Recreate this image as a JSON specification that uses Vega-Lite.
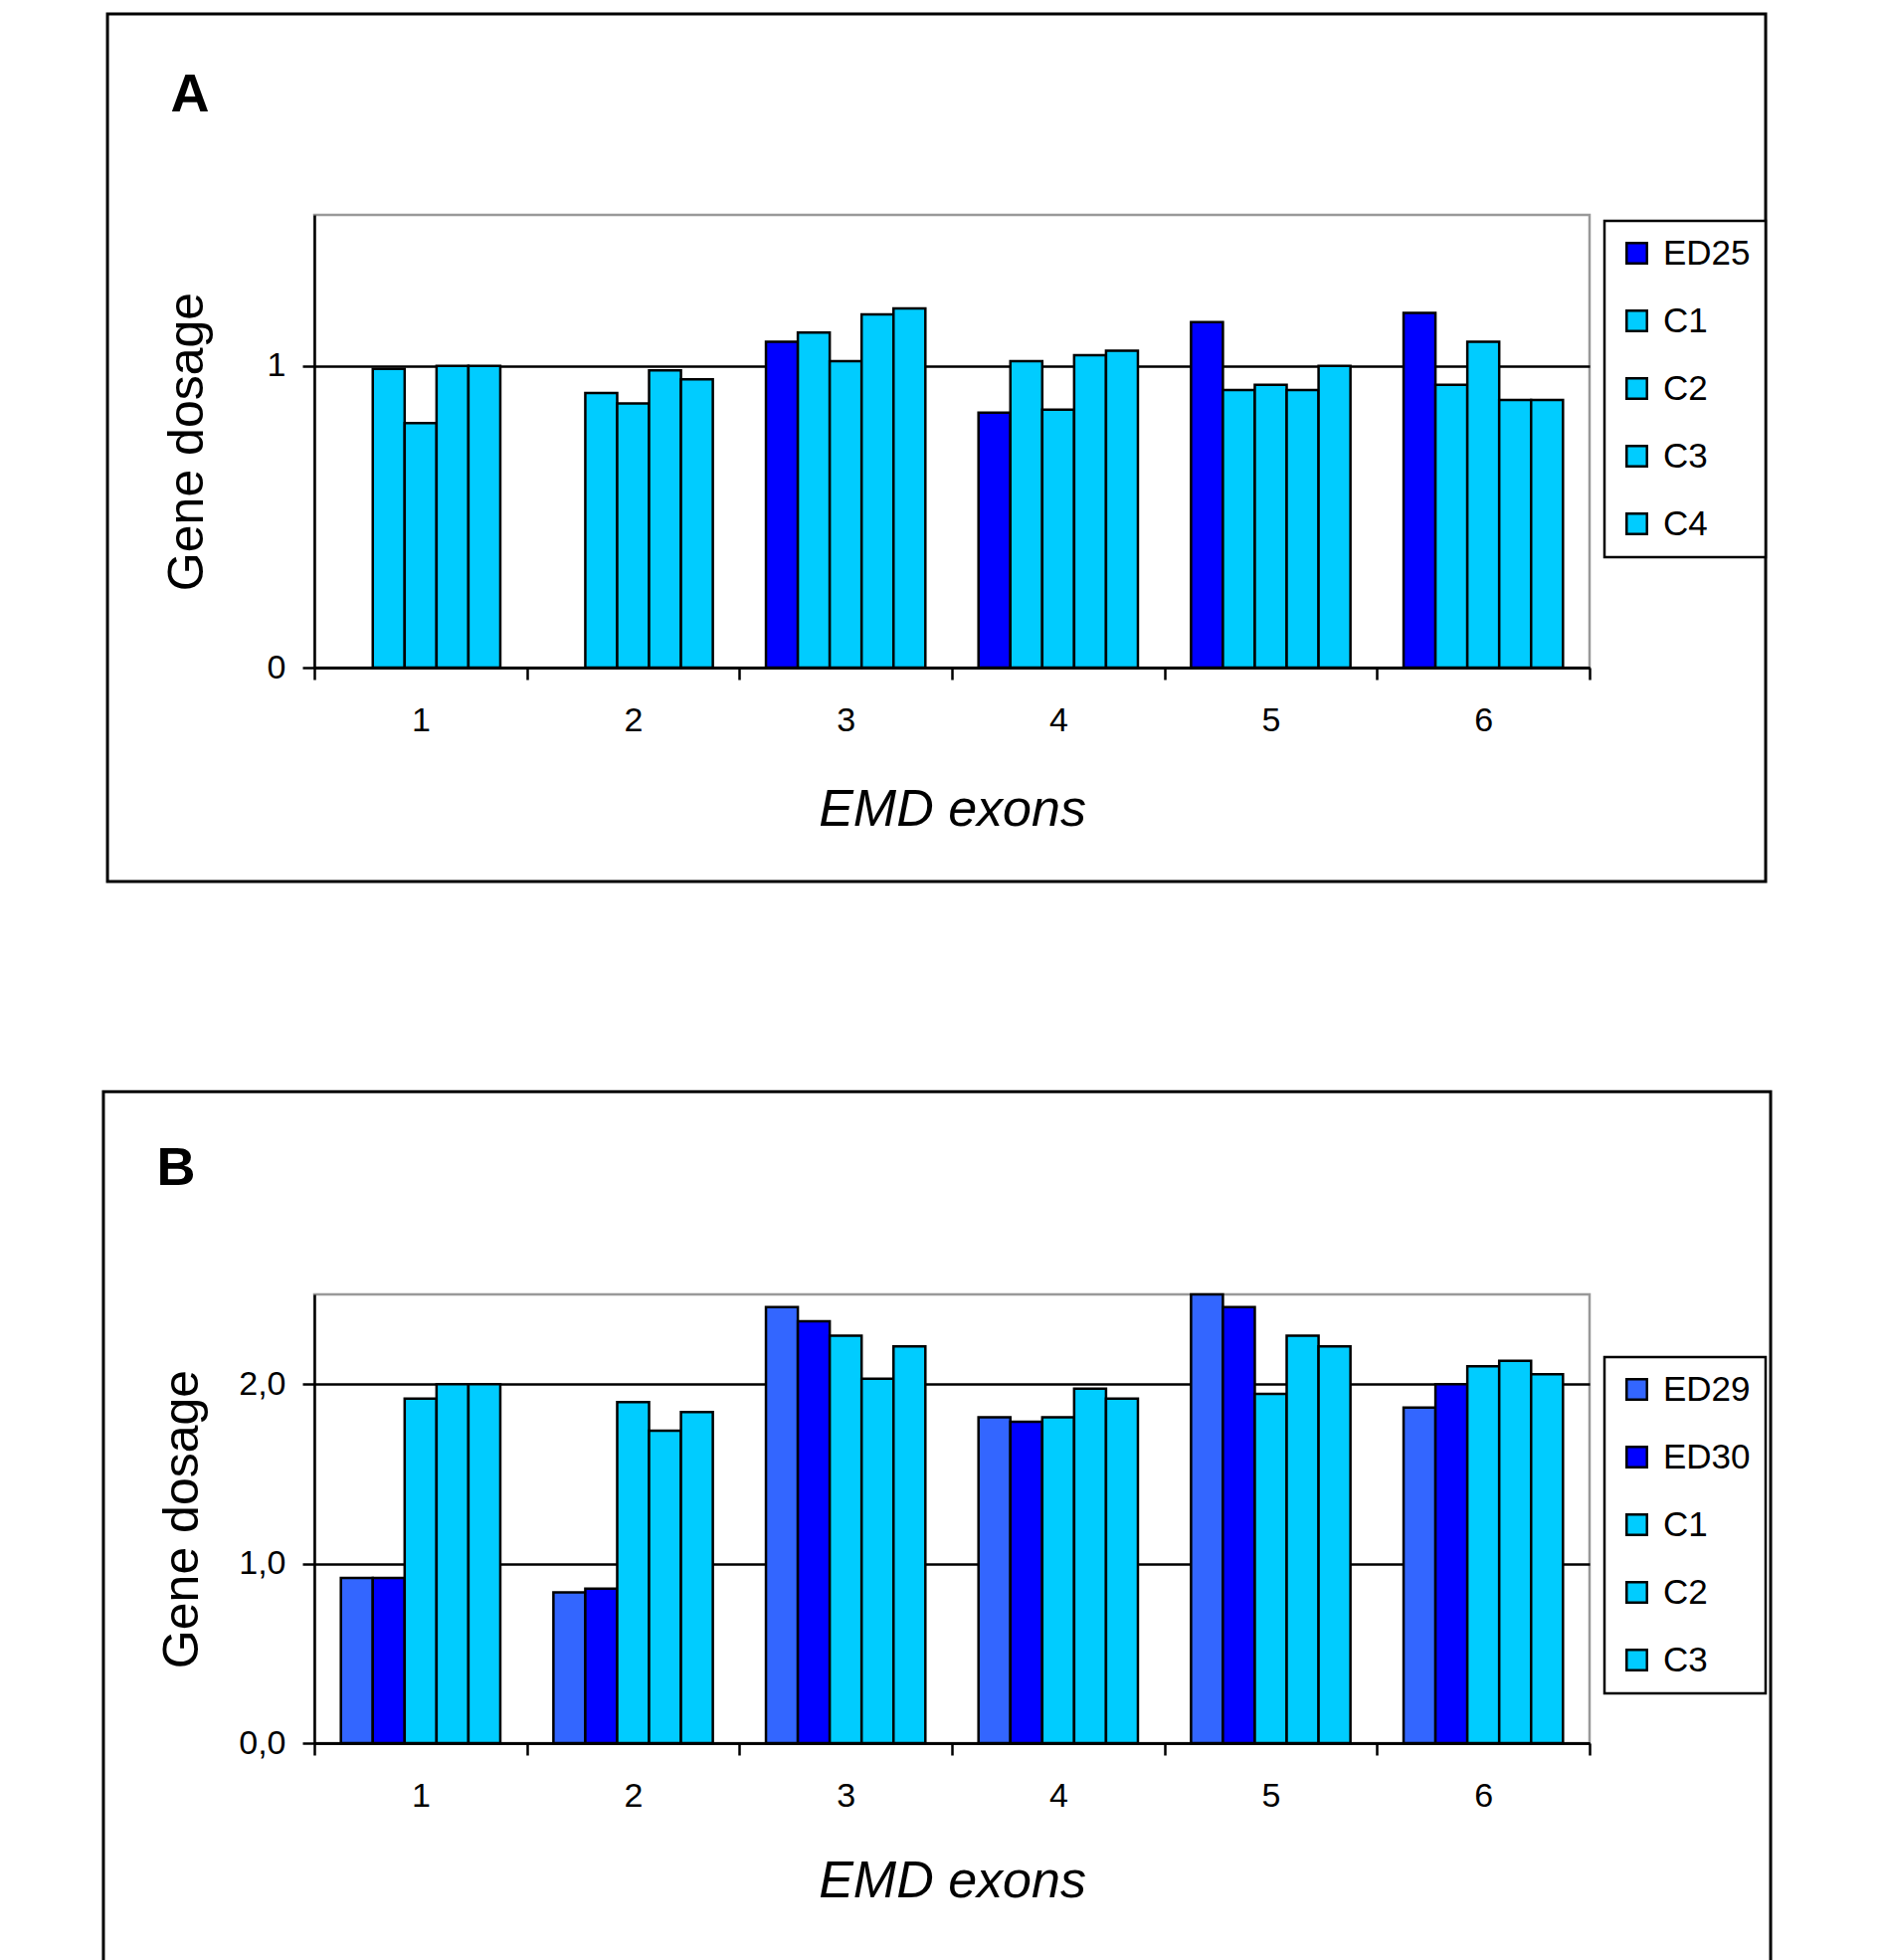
{
  "$schema": "https://vega.github.io/schema/vega-lite/v6.json",
  "background": "white",
  "padding": {"left": 101, "top": 11, "right": 0, "bottom": 0},
  "spacing": 205,
  "config": {
    "font": "Liberation Sans",
    "view": {"stroke": "#999999", "strokeWidth": 2.5},
    "axis": {
      "labelFont": "Liberation Sans",
      "titleFont": "Liberation Sans",
      "labelColor": "black",
      "titleColor": "black",
      "domainColor": "black",
      "domainWidth": 2.5,
      "tickColor": "black",
      "tickWidth": 2.5,
      "tickSize": 12,
      "labelFontSize": 34,
      "titleFontWeight": "normal"
    },
    "legend": {"labelFont": "Liberation Sans", "labelColor": "black"}
  },
  "resolve": {"scale": {"color": "independent", "xOffset": "independent"}, "legend": {"color": "independent"}},
  "vconcat": [
    {
      "width": 1282,
      "height": 455,
      "layer": [
        {
          "data": {"values": [
            {"exon": "1", "sample": "C1", "dosage": 0.99},
            {"exon": "1", "sample": "C2", "dosage": 0.81},
            {"exon": "1", "sample": "C3", "dosage": 1.0},
            {"exon": "1", "sample": "C4", "dosage": 1.0},
            {"exon": "2", "sample": "C1", "dosage": 0.91},
            {"exon": "2", "sample": "C2", "dosage": 0.875},
            {"exon": "2", "sample": "C3", "dosage": 0.985},
            {"exon": "2", "sample": "C4", "dosage": 0.955},
            {"exon": "3", "sample": "ED25", "dosage": 1.08},
            {"exon": "3", "sample": "C1", "dosage": 1.11},
            {"exon": "3", "sample": "C2", "dosage": 1.015},
            {"exon": "3", "sample": "C3", "dosage": 1.17},
            {"exon": "3", "sample": "C4", "dosage": 1.19},
            {"exon": "4", "sample": "ED25", "dosage": 0.845},
            {"exon": "4", "sample": "C1", "dosage": 1.015},
            {"exon": "4", "sample": "C2", "dosage": 0.855},
            {"exon": "4", "sample": "C3", "dosage": 1.035},
            {"exon": "4", "sample": "C4", "dosage": 1.05},
            {"exon": "5", "sample": "ED25", "dosage": 1.145},
            {"exon": "5", "sample": "C1", "dosage": 0.92},
            {"exon": "5", "sample": "C2", "dosage": 0.937},
            {"exon": "5", "sample": "C3", "dosage": 0.92},
            {"exon": "5", "sample": "C4", "dosage": 1.0},
            {"exon": "6", "sample": "ED25", "dosage": 1.175},
            {"exon": "6", "sample": "C1", "dosage": 0.937},
            {"exon": "6", "sample": "C2", "dosage": 1.08},
            {"exon": "6", "sample": "C3", "dosage": 0.887},
            {"exon": "6", "sample": "C4", "dosage": 0.887}
          ]},
          "mark": {"type": "bar", "stroke": "black", "strokeWidth": 2.5},
          "encoding": {
            "x": {
              "field": "exon", "type": "nominal", "sort": ["1", "2", "3", "4", "5", "6"],
              "scale": {"paddingInner": 0, "paddingOuter": 0},
              "axis": {"title": "EMD exons", "titleFontStyle": "italic", "titleFontSize": 52, "labelAngle": 0, "tickBand": "extent", "labelPadding": 24, "titlePadding": 47, "grid": false}
            },
            "xOffset": {
              "field": "sample", "type": "nominal",
              "scale": {"domain": ["ED25", "C1", "C2", "C3", "C4"], "paddingInner": 0, "paddingOuter": 0.833}
            },
            "y": {
              "field": "dosage", "type": "quantitative",
              "scale": {"domain": [0, 1.5], "nice": false},
              "axis": {"title": "Gene dosage", "titleFontSize": 50, "values": [0, 1], "labelPadding": 17, "titlePadding": 55, "grid": true, "gridColor": "black", "gridWidth": 2.5}
            },
            "color": {
              "field": "sample", "type": "nominal",
              "scale": {"domain": ["ED25", "C1", "C2", "C3", "C4"], "range": ["#0000FF", "#00CCFF", "#00CCFF", "#00CCFF", "#00CCFF"]},
              "legend": {
                "title": null, "orient": "none", "legendX": 1297, "legendY": 6,
                "strokeColor": "black", "fillColor": "white", "padding": 15,
                "labelFontSize": 35, "labelOffset": 9, "symbolType": "square", "symbolSize": 420,
                "symbolStrokeColor": "black", "symbolStrokeWidth": 2.5, "rowPadding": 32,
                "encode": {"legend": {"update": {"strokeWidth": {"value": 2.5}}}}
              }
            }
          }
        },
        {
          "data": {"values": [{"panel": "A"}]},
          "layer": [
            {
              "mark": {"type": "rect", "filled": false, "stroke": "black", "strokeWidth": 3, "clip": false},
              "encoding": {
                "x": {"datum": -0.1622, "type": "quantitative", "scale": {"domain": [0, 1], "nice": false, "zero": false}, "axis": null},
                "x2": {"datum": 1.1381},
                "y": {"datum": -0.4725, "type": "quantitative", "scale": {"domain": [0, 1], "nice": false, "zero": false}, "axis": null},
                "y2": {"datum": 1.444}
              }
            },
            {
              "mark": {"type": "text", "font": "Liberation Sans", "fontSize": 54, "fontWeight": "bold", "color": "black", "align": "center", "baseline": "alphabetic"},
              "encoding": {
                "text": {"field": "panel"},
                "x": {"datum": -0.0975, "type": "quantitative"},
                "y": {"datum": 1.228, "type": "quantitative"}
              }
            }
          ]
        }
      ],
      "resolve": {"scale": {"x": "independent", "y": "independent"}}
    },
    {
      "width": 1282,
      "height": 451,
      "layer": [
        {
          "data": {"values": [
            {"exon": "1", "sample": "ED29", "dosage": 0.92},
            {"exon": "1", "sample": "ED30", "dosage": 0.92},
            {"exon": "1", "sample": "C1", "dosage": 1.92},
            {"exon": "1", "sample": "C2", "dosage": 2.0},
            {"exon": "1", "sample": "C3", "dosage": 2.0},
            {"exon": "2", "sample": "ED29", "dosage": 0.84},
            {"exon": "2", "sample": "ED30", "dosage": 0.86},
            {"exon": "2", "sample": "C1", "dosage": 1.9},
            {"exon": "2", "sample": "C2", "dosage": 1.74},
            {"exon": "2", "sample": "C3", "dosage": 1.845},
            {"exon": "3", "sample": "ED29", "dosage": 2.43},
            {"exon": "3", "sample": "ED30", "dosage": 2.35},
            {"exon": "3", "sample": "C1", "dosage": 2.27},
            {"exon": "3", "sample": "C2", "dosage": 2.03},
            {"exon": "3", "sample": "C3", "dosage": 2.21},
            {"exon": "4", "sample": "ED29", "dosage": 1.815},
            {"exon": "4", "sample": "ED30", "dosage": 1.79},
            {"exon": "4", "sample": "C1", "dosage": 1.815},
            {"exon": "4", "sample": "C2", "dosage": 1.975},
            {"exon": "4", "sample": "C3", "dosage": 1.92},
            {"exon": "5", "sample": "ED29", "dosage": 2.5},
            {"exon": "5", "sample": "ED30", "dosage": 2.43},
            {"exon": "5", "sample": "C1", "dosage": 1.945},
            {"exon": "5", "sample": "C2", "dosage": 2.27},
            {"exon": "5", "sample": "C3", "dosage": 2.21},
            {"exon": "6", "sample": "ED29", "dosage": 1.87},
            {"exon": "6", "sample": "ED30", "dosage": 2.0},
            {"exon": "6", "sample": "C1", "dosage": 2.1},
            {"exon": "6", "sample": "C2", "dosage": 2.13},
            {"exon": "6", "sample": "C3", "dosage": 2.055}
          ]},
          "mark": {"type": "bar", "stroke": "black", "strokeWidth": 2.5},
          "encoding": {
            "x": {
              "field": "exon", "type": "nominal", "sort": ["1", "2", "3", "4", "5", "6"],
              "scale": {"paddingInner": 0, "paddingOuter": 0},
              "axis": {"title": "EMD exons", "titleFontStyle": "italic", "titleFontSize": 52, "labelAngle": 0, "tickBand": "extent", "labelPadding": 24, "titlePadding": 43, "grid": false}
            },
            "xOffset": {
              "field": "sample", "type": "nominal",
              "scale": {"domain": ["ED29", "ED30", "C1", "C2", "C3"], "paddingInner": 0, "paddingOuter": 0.833}
            },
            "y": {
              "field": "dosage", "type": "quantitative",
              "scale": {"domain": [0, 2.5], "nice": false},
              "axis": {"title": "Gene dosage", "titleFontSize": 50, "values": [0, 1, 2], "labelExpr": "replace(format(datum.value, '.1f'), '.', ',')", "labelPadding": 17, "titlePadding": 31, "grid": true, "gridColor": "black", "gridWidth": 2.5}
            },
            "color": {
              "field": "sample", "type": "nominal",
              "scale": {"domain": ["ED29", "ED30", "C1", "C2", "C3"], "range": ["#3366FF", "#0000FF", "#00CCFF", "#00CCFF", "#00CCFF"]},
              "legend": {
                "title": null, "orient": "none", "legendX": 1297, "legendY": 63,
                "strokeColor": "black", "fillColor": "white", "padding": 15,
                "labelFontSize": 35, "labelOffset": 9, "symbolType": "square", "symbolSize": 420,
                "symbolStrokeColor": "black", "symbolStrokeWidth": 2.5, "rowPadding": 32,
                "encode": {"legend": {"update": {"strokeWidth": {"value": 2.5}}}}
              }
            }
          }
        },
        {
          "data": {"values": [{"panel": "B"}]},
          "layer": [
            {
              "mark": {"type": "rect", "filled": false, "stroke": "black", "strokeWidth": 3, "clip": false},
              "encoding": {
                "x": {"datum": -0.1654, "type": "quantitative", "scale": {"domain": [0, 1], "nice": false, "zero": false}, "axis": null},
                "x2": {"datum": 1.142},
                "y": {"datum": -0.488, "type": "quantitative", "scale": {"domain": [0, 1], "nice": false, "zero": false}, "axis": null},
                "y2": {"datum": 1.452}
              }
            },
            {
              "mark": {"type": "text", "font": "Liberation Sans", "fontSize": 54, "fontWeight": "bold", "color": "black", "align": "center", "baseline": "alphabetic"},
              "encoding": {
                "text": {"field": "panel"},
                "x": {"datum": -0.1084, "type": "quantitative"},
                "y": {"datum": 1.245, "type": "quantitative"}
              }
            }
          ]
        }
      ],
      "resolve": {"scale": {"x": "independent", "y": "independent"}}
    }
  ]
}
